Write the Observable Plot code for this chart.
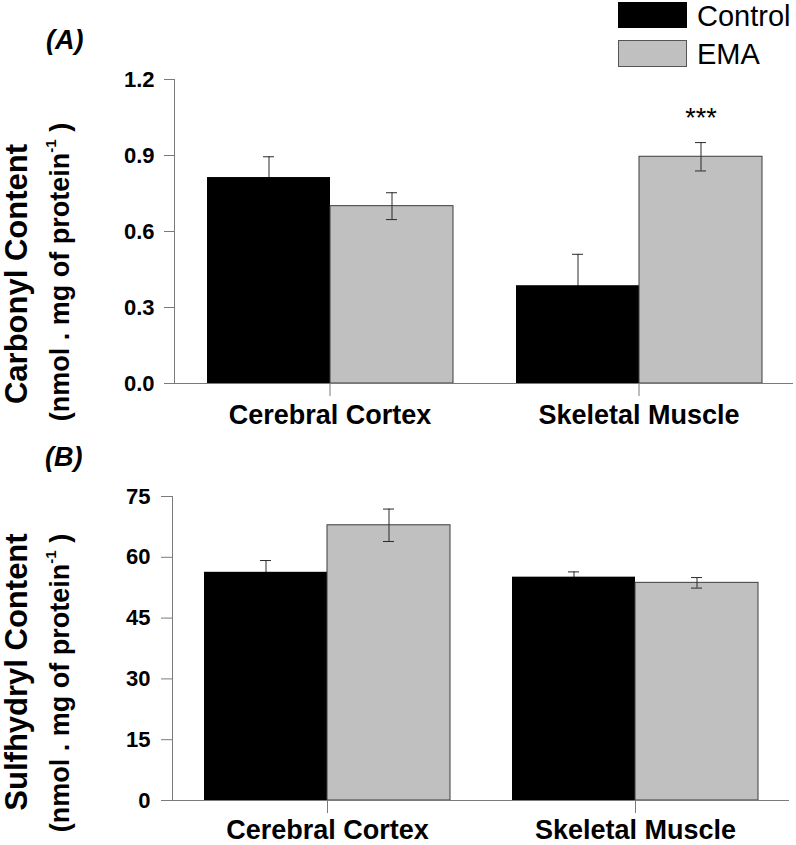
<!DOCTYPE html>
<html>
<head>
<meta charset="utf-8">
<script src="https://cdn.jsdelivr.net/npm/d3@7"></script>
<script src="https://cdn.jsdelivr.net/npm/@observablehq/plot@0.6"></script>
<style>
  body { margin: 0; background: white; }
  #root { position: relative; width: 796px; height: 845px; font-family: "Liberation Sans", Arial, sans-serif; color: black; overflow: hidden; }
  .abs { position: absolute; white-space: nowrap; line-height: 1; }
  .rot { transform: translate(-50%, -50%) rotate(-90deg); font-weight: bold; }
  .panel { font-weight: bold; font-style: italic; font-size: 27px; }
  .sw { position: absolute; box-sizing: border-box; }
  sup { font-size: 15px; vertical-align: 0; position: relative; top: -13px; }
</style>
</head>
<body>
<div id="root">
  <div id="plotA" class="abs" style="left:0;top:0"></div>
  <div id="plotB" class="abs" style="left:0;top:440px"></div>
</div>
<script>
// ---- data ----
const categories = ["Cerebral Cortex", "Skeletal Muscle"];
const groups = ["Control", "EMA"];
const groupColors = ["#000000", "#c0c0c0"];

// values per category (rows) and group (columns)
const carbonylValues = [[0.813, 0.700], [0.386, 0.895]];
const carbonylErrors = [[0.082, 0.053], [0.124, 0.056]];
const carbonylSig = [["", ""], ["", "***"]];
const carbonylTicks = [0, 0.3, 0.6, 0.9, 1.2];

const sulfhydrylValues = [[56.3, 67.9], [55.1, 53.7]];
const sulfhydrylErrors = [[2.9, 4.0], [1.3, 1.3]];
const sulfhydrylSig = [["", ""], ["", ""]];
const sulfhydrylTicks = [0, 15, 30, 45, 60, 75];

const panelLabels = ["(A)", "(B)"];
const yTitles = ["Carbonyl Content", "Sulfhydryl Content"];
const yUnits = "(nmol . mg of protein";

function makeRows(values, errors, sig) {
  const out = [];
  categories.forEach((c, i) => groups.forEach((g, j) => {
    out.push({category: c, group: g, value: values[i][j], err: errors[i][j], sig: sig[i][j]});
  }));
  return out;
}

const FONT = "Liberation Sans, Arial, sans-serif";
const AXIS = "#7a7a7a";
const ERR = "#2a2a2a";

function panel({data, ticks, fmt, domain, height, marginTop, marginBottom, marginLeft, marginRight, yTickSize, yTickPad, fxPad}) {
  const isC = d => d.group === groups[0];
  const isE = d => d.group === groups[1];
  const errMarks = (filter) => [
    Plot.ruleX(data, {fx: "category", x: "group", y1: d => d.value - d.err, y2: d => d.value + d.err, stroke: ERR, strokeWidth: 1, filter}),
    Plot.tickY(data, {fx: "category", x: "group", y: d => d.value + d.err, stroke: ERR, strokeWidth: 1, insetLeft: 56, insetRight: 56, filter}),
    Plot.tickY(data, {fx: "category", x: "group", y: d => d.value - d.err, stroke: ERR, strokeWidth: 1, insetLeft: 56, insetRight: 56, filter})
  ];
  const chart = Plot.plot({
    width: 796, height, marginTop, marginBottom, marginLeft, marginRight,
    style: {fontFamily: FONT, background: "transparent", overflow: "visible", color: "black"},
    fx: {domain: categories, padding: 0, label: null, axis: null},
    x: {domain: groups, paddingInner: 0, paddingOuter: 0.25, axis: null},
    y: {domain, axis: null},
    marks: [
      ...errMarks(isC),
      Plot.barY(data, {fx: "category", x: "group", y: "value", fill: groupColors[0], filter: isC}),
      Plot.barY(data, {fx: "category", x: "group", y: "value", fill: groupColors[1], stroke: "#3c3c3c", strokeWidth: 1, filter: isE}),
      ...errMarks(isE),
      Plot.ruleY([0], {stroke: AXIS, strokeWidth: 1}),
      Plot.axisY({ticks, tickFormat: fmt, tickSize: yTickSize, tickPadding: yTickPad, fontSize: 22, fontWeight: "bold", stroke: AXIS, label: null}),
      Plot.axisFx({anchor: "bottom", tickSize: 13, tickPadding: fxPad, fontSize: 27, fontWeight: "bold", stroke: AXIS, label: null}),
      Plot.text(data, {fx: "category", x: "group", y: d => d.value + d.err, text: "sig", dy: -24, fontSize: 27, filter: d => d.sig})
    ]
  });
  // vertical axis line along the y scale's range, at the left edge of the frame
  const [y0, y1] = chart.scale("y").range;
  d3.select(chart).append("line")
    .attr("x1", marginLeft + 0.5).attr("x2", marginLeft + 0.5)
    .attr("y1", y0).attr("y2", y1)
    .attr("stroke", AXIS).attr("stroke-width", 1);
  return chart;
}

const rowsA = makeRows(carbonylValues, carbonylErrors, carbonylSig);
const rowsB = makeRows(sulfhydrylValues, sulfhydrylErrors, sulfhydrylSig);

document.getElementById("plotA").append(panel({
  data: rowsA, ticks: carbonylTicks, fmt: d => d.toFixed(1), domain: [0, 1.2],
  height: 440, marginTop: 79, marginBottom: 57, marginLeft: 174, marginRight: 3,
  yTickSize: 11, yTickPad: 10, fxPad: 8
}));
document.getElementById("plotB").append(panel({
  data: rowsB, ticks: sulfhydrylTicks, fmt: d => d3.format("d")(d), domain: [0, 75],
  height: 405, marginTop: 56, marginBottom: 45, marginLeft: 172, marginRight: 7,
  yTickSize: 12, yTickPad: 11, fxPad: 6
}));

// ---- overlay text: panel letters, axis titles, legend ----
const root = document.getElementById("root");
function addDiv(cls, style, html) {
  const el = document.createElement("div");
  el.className = cls;
  el.setAttribute("style", style);
  el.innerHTML = html;
  root.append(el);
  return el;
}
addDiv("abs panel", "left:46px;top:27px;", panelLabels[0]);
addDiv("abs panel", "left:45px;top:444px;", panelLabels[1]);

addDiv("abs rot", "left:16px;top:274px;font-size:31px;", yTitles[0]);
addDiv("abs rot", "left:60px;top:272px;font-size:27px;", yUnits + "<sup>-1</sup> )");
addDiv("abs rot", "left:16px;top:672px;font-size:31px;", yTitles[1]);
addDiv("abs rot", "left:60px;top:683px;font-size:27px;", yUnits + "<sup>-1</sup> )");

// legend
groups.forEach((g, i) => {
  const top = i === 0 ? 2 : 40;
  addDiv("sw", `left:618px;top:${top}px;width:69px;height:${i === 0 ? 26 : 27}px;background:${groupColors[i]};border:1px solid ${i === 0 ? "#000" : "#555"};`, "");
  addDiv("abs", `left:697px;top:${i === 0 ? 1.5 : 39.5}px;font-size:29px;`, g);
});
</script>
</body>
</html>
